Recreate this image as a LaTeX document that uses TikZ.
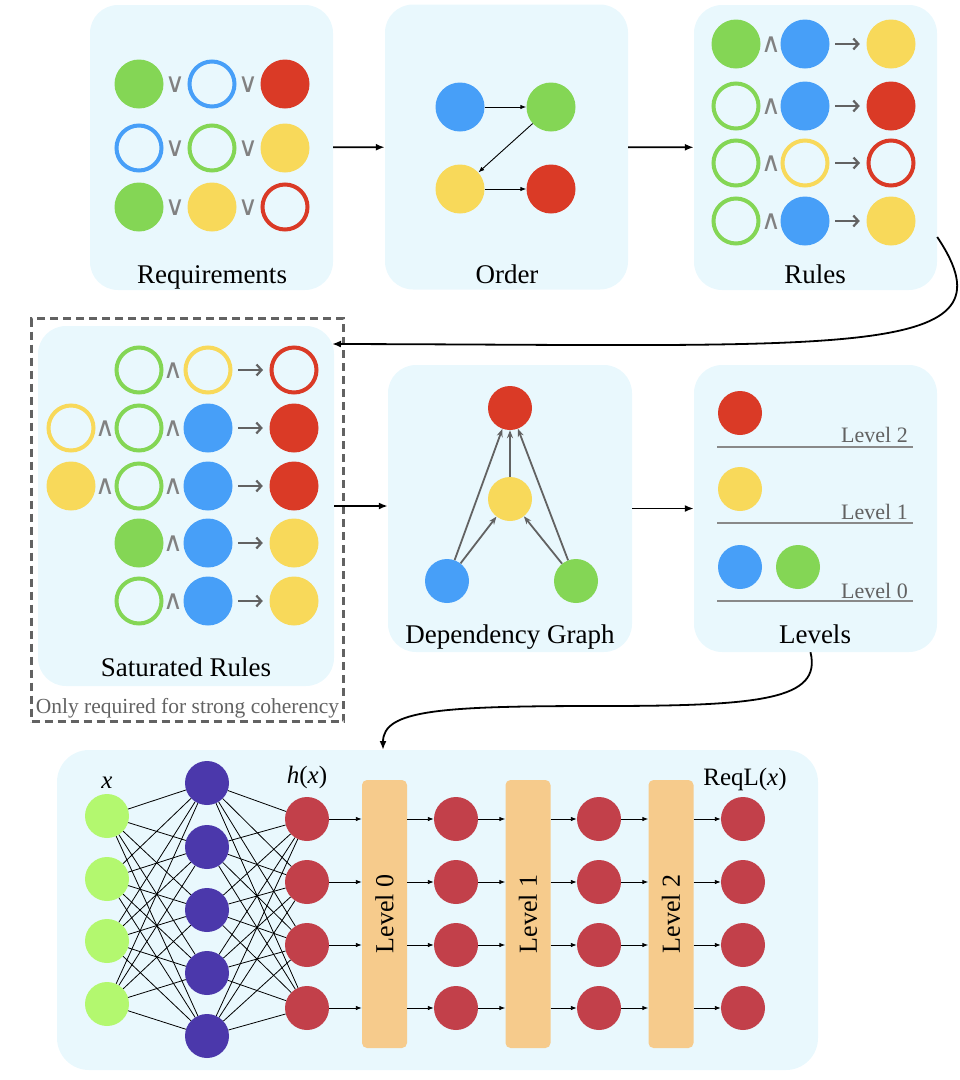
\documentclass[tikz,border=0pt]{standalone}
\usepackage{fontspec}
\setmainfont{Liberation Serif}
\newfontfamily\opfont{DejaVu Sans}
\usepackage{graphicx}
\usepackage{xcolor}
\definecolor{PanelBlue}{HTML}{E9F8FD}
\definecolor{ReqGreen}{HTML}{84D655}
\definecolor{ReqBlue}{HTML}{479FF8}
\definecolor{ReqRed}{HTML}{DA3A26}
\definecolor{ReqYellow}{HTML}{F8D95A}
\definecolor{OpGray}{HTML}{626262}
\definecolor{InGreen}{HTML}{B3F86F}
\definecolor{HidPurple}{HTML}{4B38AB}
\definecolor{OutRed}{HTML}{C2404A}
\definecolor{LevelOrange}{HTML}{F6CB8C}
\usepackage{tikz}
\usetikzlibrary{positioning,arrows.meta,calc}

\begin{document}
\begin{tikzpicture}[x=1pt,y=-1pt,
    panel/.style={fill=PanelBlue,rounded corners=28pt,minimum width=243pt,minimum height=285pt,inner sep=0pt},
    dot/.style={circle,inner sep=0pt,minimum size=49pt,fill=#1},
    ring/.style={circle,inner sep=0pt,minimum size=45pt,line width=4pt,draw=#1},
    smalldot/.style={circle,inner sep=0pt,minimum size=44pt,fill=#1},
    logic/.style={text=OpGray!80,inner sep=0pt,font=\opfont\fontsize{27}{30}\selectfont},
    paneltitle/.style={anchor=base,inner sep=0pt,font=\fontsize{27}{30}\selectfont},
    flow/.style={-{Latex[length=9pt,width=7pt]},line width=1.8pt},
    implies/.style={-{Straight Barb[length=5pt,width=11pt]},line width=2.2pt,OpGray,shorten <=5.5pt,shorten >=6.5pt},
    thinarrow/.style={-{Latex[length=6pt,width=4.5pt]},line width=0.9pt},
    dep/.style={-{Stealth[length=8pt,width=6pt]},line width=1.8pt,OpGray},
    wire/.style={line width=0.8pt},
    levelbox/.style={fill=LevelOrange,rounded corners=5pt,minimum width=45pt,minimum height=268pt,inner sep=0pt,font=\fontsize{26}{28}\selectfont}]
  \useasboundingbox (0,0) rectangle (960,1080);

  % panels
  \node[panel] (req) at (211.5,147.5) {};
  \node[panel] (order) at (506.5,147) {};
  \node[panel] (rules) at (815.5,147.5) {};
  \node[panel,minimum width=296pt,minimum height=360pt] (sat) at (186,506) {};
  \node[draw=OpGray,line width=3pt,dash pattern=on 8pt off 5pt,minimum width=312pt,minimum height=403pt,inner sep=0pt] (optional) at (187.5,520) {};
  \node[panel,minimum width=244pt,minimum height=287pt] (dg) at (510,508.5) {};
  \node[panel,minimum height=287pt] (lev) at (815.5,508.5) {};
  \node[panel,rounded corners=32pt,minimum width=761pt,minimum height=320pt] (net) at (437.5,910) {};

  % requirements
  \node[dot=ReqGreen] (q11) at (139,84) {};
  \node[logic] (q11or) at (175,85) {∨};
  \node[ring=ReqBlue] (q12) at (212,84) {};
  \node[logic] (q12or) at (248,85) {∨};
  \node[dot=ReqRed] (q13) at (285,84) {};
  \node[ring=ReqBlue] (q21) at (139,148) {};
  \node[logic] (q21or) at (175,149) {∨};
  \node[ring=ReqGreen] (q22) at (212,148) {};
  \node[logic] (q22or) at (248,149) {∨};
  \node[dot=ReqYellow] (q23) at (285,148) {};
  \node[dot=ReqGreen] (q31) at (139,207) {};
  \node[logic] (q31or) at (175,208) {∨};
  \node[dot=ReqYellow] (q32) at (212,207) {};
  \node[logic] (q32or) at (248,208) {∨};
  \node[ring=ReqRed] (q33) at (285,207) {};
  \node[paneltitle] (reqtitle) at (212,283) {Requirements};

  % order
  \node[dot=ReqBlue] (ob) at (460,107) {};
  \node[dot=ReqGreen] (og) at (551,107) {};
  \node[dot=ReqYellow] (oy) at (460,189) {};
  \node[dot=ReqRed] (ord) at (551,189) {};
  \draw[thinarrow] (ob) -- (og);
  \draw[thinarrow] (og) -- (oy);
  \draw[thinarrow] (oy) -- (ord);
  \node[paneltitle] (ordertitle) at (507,283) {Order};

  % rules
  \node[dot=ReqGreen] (u11) at (736,44) {};
  \node[logic] (u1and) at (771,45) {∧};
  \node[dot=ReqBlue] (u12) at (805,44) {};
  \node[dot=ReqYellow] (u13) at (891,44) {};
  \node[ring=ReqGreen] (u21) at (736,106) {};
  \node[logic] (u2and) at (771,107) {∧};
  \node[dot=ReqBlue] (u22) at (805,106) {};
  \node[dot=ReqRed] (u23) at (891,106) {};
  \node[ring=ReqGreen] (u31) at (736,163) {};
  \node[logic] (u3and) at (771,164) {∧};
  \node[ring=ReqYellow] (u32) at (805,163) {};
  \node[ring=ReqRed] (u33) at (891,163) {};
  \node[ring=ReqGreen] (u41) at (736,221) {};
  \node[logic] (u4and) at (771,222) {∧};
  \node[dot=ReqBlue] (u42) at (805,221) {};
  \node[dot=ReqYellow] (u43) at (891,221) {};
  \draw[implies] (u12) -- (u13);
  \draw[implies] (u22) -- (u23);
  \draw[implies] (u32) -- (u33);
  \draw[implies] (u42) -- (u43);
  \node[paneltitle] (rulestitle) at (815,283) {Rules};

  % saturated rules
  \node[ring=ReqGreen] (s11) at (139,370) {};
  \node[logic] (s1and) at (173,371) {∧};
  \node[ring=ReqYellow] (s12) at (208,370) {};
  \node[ring=ReqRed] (s13) at (294,370) {};
  \node[ring=ReqYellow] (s20) at (71,428) {};
  \node[logic] (s2anda) at (105,429) {∧};
  \node[ring=ReqGreen] (s21) at (139,428) {};
  \node[logic] (s2andb) at (173,429) {∧};
  \node[dot=ReqBlue] (s22) at (208,428) {};
  \node[dot=ReqRed] (s23) at (294,428) {};
  \node[dot=ReqYellow] (s30) at (71,486) {};
  \node[logic] (s3anda) at (105,487) {∧};
  \node[ring=ReqGreen] (s31) at (139,486) {};
  \node[logic] (s3andb) at (173,487) {∧};
  \node[dot=ReqBlue] (s32) at (208,486) {};
  \node[dot=ReqRed] (s33) at (294,486) {};
  \node[dot=ReqGreen] (s41) at (139,543) {};
  \node[logic] (s4and) at (173,544) {∧};
  \node[dot=ReqBlue] (s42) at (208,543) {};
  \node[dot=ReqYellow] (s43) at (294,543) {};
  \node[ring=ReqGreen] (s51) at (139,601) {};
  \node[logic] (s5and) at (173,602) {∧};
  \node[dot=ReqBlue] (s52) at (208,601) {};
  \node[dot=ReqYellow] (s53) at (294,601) {};
  \draw[implies] (s12) -- (s13);
  \draw[implies] (s22) -- (s23);
  \draw[implies] (s32) -- (s33);
  \draw[implies] (s42) -- (s43);
  \draw[implies] (s52) -- (s53);
  \node[paneltitle] (sattitle) at (186,676) {Saturated Rules};
  \node[anchor=base,inner sep=0pt,text=OpGray,font=\fontsize{21.5}{24}\selectfont] (optnote) at (187.5,713) {Only required for strong coherency};

  % dependency graph
  \node[smalldot=ReqRed] (gr) at (510,408) {};
  \node[smalldot=ReqYellow] (gy) at (510,499) {};
  \node[smalldot=ReqBlue] (gb) at (447,581) {};
  \node[smalldot=ReqGreen] (gg) at (576,581) {};
  \draw[dep] (gb) -- (gr);
  \draw[dep] (gb) -- (gy);
  \draw[dep] (gy) -- (gr);
  \draw[dep] (gg) -- (gy);
  \draw[dep] (gg) -- (gr);
  \node[paneltitle] (dgtitle) at (510,643) {Dependency Graph};

  % levels
  \node[smalldot=ReqRed] (l2r) at (740,413) {};
  \node[smalldot=ReqYellow] (l1y) at (740,489) {};
  \node[smalldot=ReqBlue] (l0b) at (740,567) {};
  \node[smalldot=ReqGreen] (l0g) at (798,567) {};
  \draw[OpGray!75,line width=1.3pt] (717,447) -- (913,447);
  \draw[OpGray!75,line width=1.3pt] (717,523) -- (913,523);
  \draw[OpGray!75,line width=1.3pt] (717,601) -- (913,601);
  \node[anchor=base east,inner sep=0pt,text=OpGray,font=\fontsize{22}{24}\selectfont] (lab2) at (908,442) {Level 2};
  \node[anchor=base east,inner sep=0pt,text=OpGray,font=\fontsize{22}{24}\selectfont] (lab1) at (908,519) {Level 1};
  \node[anchor=base east,inner sep=0pt,text=OpGray,font=\fontsize{22}{24}\selectfont] (lab0) at (908,598) {Level 0};
  \node[paneltitle] (levtitle) at (815,643) {Levels};

  % flow between panels
  \draw[flow] (req) -- (order);
  \draw[flow] (order) -- (rules);
  \coordinate (rulesout) at ($(rules.east)+(0,89.5)$);
  \coordinate (satin) at (332,344);
  \draw[flow] (rulesout) .. controls (1020,360) and (850,345) .. (satin);
  \draw[flow] (sat.east) -- (sat.east -| dg.west);
  \draw[flow] (dg) -- (lev);
  \coordinate (levout) at ($(lev.south)+(-5,0)$);
  \coordinate (netin) at (383,750);
  \draw[flow] (levout) .. controls (822,700) and (760,706) .. (600,706) .. controls (440,706) and (383,710) .. (netin);

  % network
  \foreach \i/\y in {1/816,2/879,3/941,4/1004}
    \node[smalldot=InGreen] (in\i) at (107,\y) {};
  \foreach \j/\y in {1/783,2/847,3/910,4/973,5/1036}
    \node[smalldot=HidPurple] (hid\j) at (207,\y) {};
  \foreach \i/\y in {1/819,2/882,3/945,4/1008} {
    \node[smalldot=OutRed] (h\i) at (307,\y) {};
    \node[smalldot=OutRed] (a\i) at (456,\y) {};
    \node[smalldot=OutRed] (b\i) at (599,\y) {};
    \node[smalldot=OutRed] (o\i) at (743,\y) {};
  }
  \node[levelbox] (lv0) at (384.5,914) {\rotatebox{90}{Level 0}};
  \node[levelbox] (lv1) at (528,914) {\rotatebox{90}{Level 1}};
  \node[levelbox] (lv2) at (671,914) {\rotatebox{90}{Level 2}};
  \foreach \i in {1,...,4}
    \foreach \j in {1,...,5} {
      \draw[wire] (in\i) -- (hid\j);
      \draw[wire] (hid\j) -- (h\i);
    }
  \foreach \i in {1,...,4} {
    \draw[thinarrow] (h\i) -- (h\i -| lv0.west);
    \draw[thinarrow] (lv0.east |- a\i) -- (a\i);
    \draw[thinarrow] (a\i) -- (a\i -| lv1.west);
    \draw[thinarrow] (lv1.east |- b\i) -- (b\i);
    \draw[thinarrow] (b\i) -- (b\i -| lv2.west);
    \draw[thinarrow] (lv2.east |- o\i) -- (o\i);
  }
  \node[anchor=base,inner sep=0pt,font=\fontsize{25}{27}\selectfont] (xlabel) at (107,788) {\textit{x}};
  \node[anchor=base,inner sep=0pt,font=\fontsize{25}{27}\selectfont] (hlabel) at (307,783) {\textit{h}(\textit{x})};
  \node[anchor=base,inner sep=0pt,font=\fontsize{25}{27}\selectfont] (reqllabel) at (745,785) {ReqL(\textit{x})};
\end{tikzpicture}
\end{document}
